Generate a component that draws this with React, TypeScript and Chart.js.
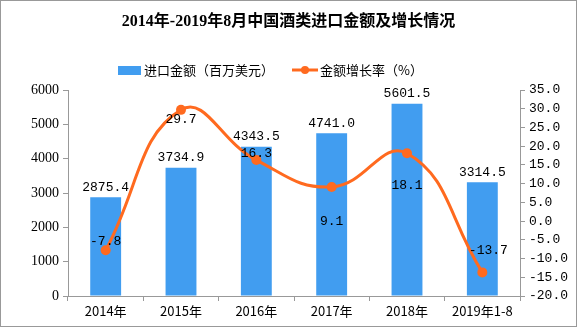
import React, { useEffect, useRef } from "react";
import { Chart, registerables } from "chart.js";
Chart.register(...registerables);

const categories = ["2014年", "2015年", "2016年", "2017年", "2018年", "2019年1-8"];
const importAmount = [2875.4, 3734.9, 4343.5, 4741.0, 5601.5, 3314.5];
const growthRate = [-7.8, 29.7, 16.3, 9.1, 18.1, -13.7];
const leftTicks = [0, 1000, 2000, 3000, 4000, 5000, 6000];
const rightTicks = [-20, -15, -10, -5, 0, 5, 10, 15, 20, 25, 30, 35];
const titleText = "2014年-2019年8月中国酒类进口金额及增长情况";
const barLegend = "进口金额（百万美元）";
const lineLegend = "金额增长率（%）";

const BAR_COLOR = "#419DF0";
const LINE_COLOR = "#FF6A1F";
const CJK = "'Noto Sans CJK SC', sans-serif";
const SERIF = "'Liberation Serif', 'Noto Sans CJK SC', serif";
const MONO = "'Liberation Mono', 'Noto Sans CJK SC', monospace";
// pixel offsets for line data labels (style only)
const lineLabelOffsets: [number, number][] = [
  [0, -9], [0, 10], [0, -6], [0, 35], [0, 32], [6, -22],
];

const decorPlugin = {
  id: "decor",
  afterDatasetsDraw(chart: any) {
    const ctx = chart.ctx;
    ctx.save();
    // title
    ctx.fillStyle = "#000";
    ctx.font = `bold 16px ${SERIF}`;
    ctx.textAlign = "center";
    ctx.textBaseline = "middle";
    ctx.fillText(titleText, chart.width / 2, 21);
    // legend
    ctx.font = `13px ${CJK}`;
    ctx.textAlign = "left";
    ctx.fillStyle = BAR_COLOR;
    ctx.fillRect(117, 65, 23, 9);
    ctx.fillStyle = "#000";
    ctx.fillText(barLegend, 143, 69);
    ctx.strokeStyle = LINE_COLOR;
    ctx.lineWidth = 3;
    ctx.beginPath();
    ctx.moveTo(291, 69);
    ctx.lineTo(317, 69);
    ctx.stroke();
    ctx.fillStyle = LINE_COLOR;
    ctx.beginPath();
    ctx.arc(304, 69, 4, 0, Math.PI * 2);
    ctx.fill();
    ctx.fillStyle = "#000";
    ctx.fillText(lineLegend, 319, 69);

    // data labels
    ctx.font = `13px ${MONO}`;
    ctx.textAlign = "center";
    const barMeta = chart.getDatasetMeta(0);
    barMeta.data.forEach((el: any, i: number) => {
      ctx.fillText(importAmount[i].toFixed(1), el.x, el.y - 10);
    });
    const lineMeta = chart.getDatasetMeta(1);
    lineMeta.data.forEach((el: any, i: number) => {
      const [dx, dy] = lineLabelOffsets[i];
      ctx.fillText(growthRate[i].toFixed(1), el.x + dx, el.y + dy);
    });
    ctx.restore();
  },
};

export default function App() {
  const ref = useRef<HTMLCanvasElement>(null);
  useEffect(() => {
    const chart = new Chart(ref.current!, {
      type: "bar",
      data: {
        labels: categories,
        datasets: [
          {
            type: "bar",
            label: barLegend,
            data: importAmount,
            backgroundColor: BAR_COLOR,
            barPercentage: 0.41,
            categoryPercentage: 1,
            yAxisID: "y",
            order: 2,
          } as any,
          {
            type: "line",
            label: lineLegend,
            data: growthRate,
            borderColor: LINE_COLOR,
            backgroundColor: LINE_COLOR,
            borderWidth: 3,
            pointRadius: 5,
            pointBackgroundColor: LINE_COLOR,
            pointBorderWidth: 0,
            tension: 0.45,
            yAxisID: "y1",
            order: 1,
          } as any,
        ],
      },
      options: {
        animation: false,
        responsive: false,
        maintainAspectRatio: false,
        layout: { padding: { top: 89, left: 0, right: 0, bottom: 0 } },
        plugins: { legend: { display: false }, title: { display: false }, tooltip: { enabled: false } },
        scales: {
          x: {
            grid: { display: true, drawOnChartArea: false, drawTicks: true, tickLength: 5, color: "#999", offset: true },
            border: { color: "#999" },
            ticks: { color: "#000", font: { size: 13, family: CJK }, padding: 2, maxRotation: 0 },
            afterFit: (s: any) => { s.height = 30; },
          },
          y: {
            position: "left",
            min: 0,
            max: 6000,
            afterBuildTicks: (s: any) => { s.ticks = leftTicks.map((v) => ({ value: v })); },
            grid: { drawOnChartArea: false, drawTicks: true, tickLength: 5, color: "#999" },
            border: { color: "#999" },
            ticks: { color: "#000", font: { size: 14, family: SERIF }, padding: 4, callback: (v: any) => String(v) },
            afterFit: (s: any) => { s.width = 67; },
          },
          y1: {
            position: "right",
            min: -20,
            max: 35,
            afterBuildTicks: (s: any) => { s.ticks = rightTicks.map((v) => ({ value: v })); },
            grid: { drawOnChartArea: false, drawTicks: true, tickLength: 5, color: "#999" },
            border: { color: "#999" },
            ticks: { color: "#000", font: { size: 13, family: MONO }, padding: 4, callback: (v: any) => Number(v).toFixed(1) },
            afterFit: (s: any) => { s.width = 56; },
          },
        },
      } as any,
      plugins: [decorPlugin],
    });
    return () => chart.destroy();
  }, []);
  return (
    <div style={{ position: "fixed", left: 0, top: 0, width: 577, height: 327, boxSizing: "border-box", border: "1px solid #999", background: "#fff" }}>
      <canvas ref={ref} width={575} height={325} style={{ display: "block", width: 575, height: 325 }} />
    </div>
  );
}
